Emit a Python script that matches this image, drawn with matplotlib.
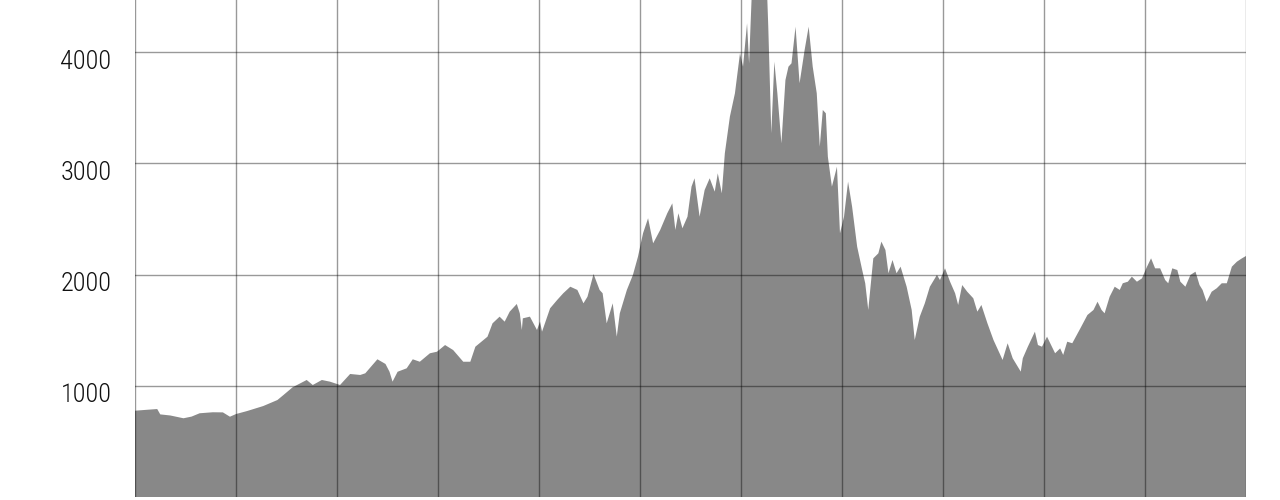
import matplotlib
matplotlib.use("Agg")
import matplotlib.pyplot as plt
import matplotlib.transforms as mtransforms

# years after the start of 1994, and index level
years = [
    0.00, 0.10, 0.22, 0.25, 0.35, 0.48, 0.56, 0.64, 0.77, 0.87, 0.94, 1.00,
    1.11, 1.27, 1.41, 1.47, 1.56, 1.70, 1.76, 1.85, 1.93, 2.03, 2.13, 2.23,
    2.28, 2.40, 2.48, 2.52, 2.55, 2.60, 2.69, 2.75, 2.82, 2.92, 2.99, 3.07,
    3.15, 3.25, 3.32, 3.37, 3.49, 3.54, 3.61, 3.66, 3.71, 3.78, 3.81, 3.83,
    3.84, 3.91, 3.98, 4.01, 4.03, 4.11, 4.18, 4.24, 4.31, 4.38, 4.44, 4.48,
    4.54, 4.60, 4.63, 4.67, 4.70, 4.73, 4.77, 4.80, 4.87, 4.93, 4.98, 5.03,
    5.08, 5.13, 5.20, 5.27, 5.32, 5.35, 5.38, 5.42, 5.47, 5.51, 5.54, 5.59,
    5.64, 5.69, 5.74, 5.77, 5.81, 5.84, 5.89, 5.94, 5.99, 6.02, 6.06, 6.08,
    6.11, 6.15, 6.20, 6.25, 6.27, 6.30, 6.33, 6.36, 6.40, 6.44, 6.47, 6.50,
    6.54, 6.58, 6.63, 6.67, 6.71, 6.75, 6.78, 6.81, 6.84, 6.86, 6.90, 6.95,
    6.98, 7.02, 7.06, 7.10, 7.15, 7.20, 7.23, 7.26, 7.31, 7.36, 7.39, 7.43,
    7.46, 7.50, 7.54, 7.58, 7.64, 7.69, 7.72, 7.77, 7.82, 7.87, 7.94, 7.97,
    8.02, 8.07, 8.12, 8.15, 8.19, 8.24, 8.30, 8.34, 8.38, 8.44, 8.50, 8.56,
    8.59, 8.64, 8.69, 8.74, 8.77, 8.79, 8.84, 8.91, 8.94, 8.98, 9.03, 9.11,
    9.16, 9.19, 9.23, 9.28, 9.36, 9.43, 9.49, 9.53, 9.57, 9.60, 9.65, 9.70,
    9.75, 9.78, 9.83, 9.87, 9.92, 9.97, 10.02, 10.06, 10.10, 10.15, 10.20,
    10.23, 10.27, 10.32, 10.35, 10.40, 10.45, 10.50, 10.54, 10.57, 10.61,
    10.66, 10.71, 10.76, 10.81, 10.86, 10.91, 10.96, 11.00,
]
values = [
    778, 785, 793, 745, 735, 710, 725, 755, 764, 763, 724, 748,
    775, 820, 874, 919, 988, 1054, 1009, 1054, 1039, 1009, 1108, 1099,
    1114, 1240, 1198, 1128, 1039, 1128, 1159, 1240, 1218, 1294, 1308, 1368,
    1323, 1218, 1218, 1353, 1443, 1563, 1623, 1578, 1668, 1737, 1653, 1503,
    1608, 1623, 1503, 1578, 1488, 1698, 1773, 1833, 1892, 1863, 1743, 1802,
    2006, 1863, 1833, 1563, 1653, 1743, 1443, 1653, 1863, 1998, 2162, 2372,
    2507, 2282, 2402, 2552, 2641, 2402, 2552, 2417, 2521, 2791, 2866, 2521,
    2761, 2866, 2746, 2911, 2731, 3091, 3420, 3630, 3989, 3869, 4259, 3899,
    4600, 4800, 4900, 4750, 4228, 3270, 3914, 3630, 3180, 3749, 3869, 3899,
    4228, 3720, 4019, 4228, 3869, 3630, 3150, 3480, 3450, 3060, 2791, 2970,
    2372, 2521, 2836, 2611, 2252, 2042, 1923, 1683, 2147, 2192, 2297, 2222,
    2013, 2132, 2013, 2072, 1892, 1683, 1413, 1623, 1743, 1892, 1998, 1952,
    2057, 1937, 1833, 1728, 1907, 1847, 1788, 1668, 1728, 1563, 1413, 1294,
    1234, 1384, 1249, 1174, 1129, 1249, 1353, 1488, 1368, 1353, 1443, 1294,
    1338, 1279, 1398, 1384, 1518, 1638, 1683, 1757, 1683, 1653, 1802, 1892,
    1863, 1923, 1937, 1982, 1937, 1967, 2072, 2147, 2057, 2057, 1952,
    1923, 2057, 2042, 1937, 1892, 1998, 2027, 1907, 1863, 1757,
    1847, 1878, 1923, 1923, 2072, 2117, 2147, 2168,
]
y_ticks = [1000, 2000, 3000, 4000]
x_grid = list(range(0, 12))

fig = plt.figure(figsize=(12.8, 5), dpi=100)
ax = fig.add_axes([135 / 1280, 2.7 / 500, 1111 / 1280, 497.3 / 500])

ax.fill_between(years, values, 0, color='#888888', lw=0, zorder=1)

ax.set_xlim(0, 11)
ax.set_ylim(0, 4468)
ax.set_xticks(x_grid)
ax.set_xticklabels([])
ax.set_yticks(y_ticks)
ax.set_yticklabels([str(v) for v in y_ticks], fontsize=19,
                   family='Roboto Condensed', fontweight=300, color='#111111')
ax.tick_params(axis='both', length=0, pad=17)
ax.grid(True, color='black', alpha=0.4, lw=1, zorder=2)
ax.set_axisbelow(False)
for s in ax.spines.values():
    s.set_visible(False)

# labels sit a little below their grid lines in the original
shift = mtransforms.ScaledTranslation(0, -5 / 72, fig.dpi_scale_trans)
for lab in ax.get_yticklabels():
    lab.set_transform(lab.get_transform() + shift)

fig.savefig('out.png', dpi=100)
